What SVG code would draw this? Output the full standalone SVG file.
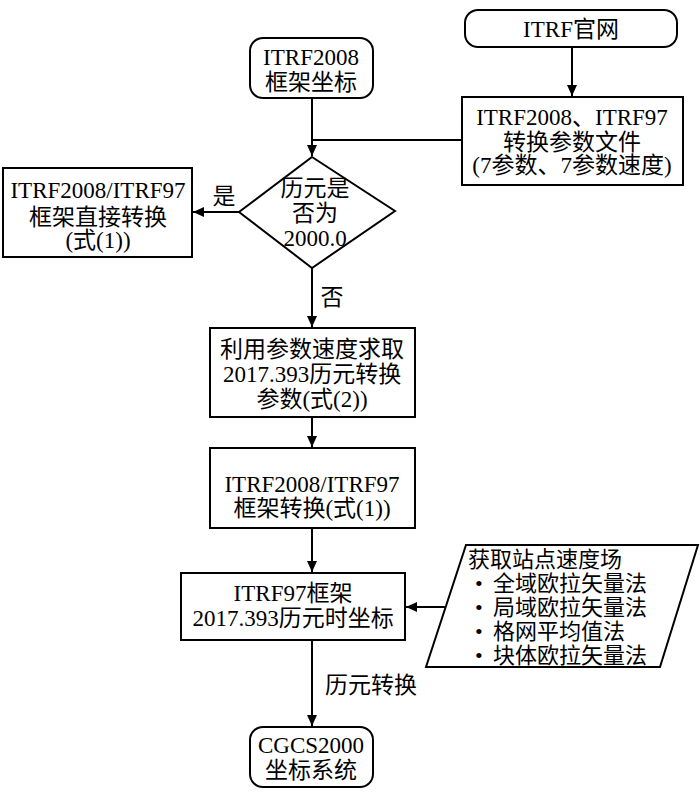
<svg xmlns="http://www.w3.org/2000/svg" width="700" height="796" viewBox="0 0 700 796">
<style>
.s{fill:#fff;stroke:#000;stroke-width:2}
.l{fill:none;stroke:#000;stroke-width:2}
text{font-family:"Liberation Serif","Noto Sans CJK SC",serif;font-size:23px;fill:#000;text-anchor:middle}
.st{text-anchor:start;font-size:22px}
</style>
<defs>
<marker id="ah" markerUnits="userSpaceOnUse" markerWidth="12" markerHeight="10" refX="11" refY="5" orient="auto">
<path d="M0,0 L11,5 L0,10 Z" fill="#000"/>
</marker>
</defs>
<rect width="700" height="796" fill="#fff"/>
<g id="connectors">
<line class="l" x1="572" y1="47" x2="572" y2="96" marker-end="url(#ah)"/>
<polyline class="l" points="312,98 312,140 462,140"/>
<line class="l" x1="312" y1="140" x2="312" y2="156" marker-end="url(#ah)"/>
<line class="l" x1="239" y1="212" x2="193" y2="212" marker-end="url(#ah)"/>
<line class="l" x1="312" y1="268" x2="312" y2="327" marker-end="url(#ah)"/>
<line class="l" x1="312" y1="417" x2="312" y2="447" marker-end="url(#ah)"/>
<line class="l" x1="312" y1="528" x2="312" y2="572" marker-end="url(#ah)"/>
<line class="l" x1="445" y1="607" x2="406" y2="607" marker-end="url(#ah)"/>
<line class="l" x1="312" y1="640" x2="312" y2="726" marker-end="url(#ah)"/>
<text x="224" y="204">是</text>
<text x="332" y="305">否</text>
<text x="371" y="693">历元转换</text>
</g>
<g id="itrf-site">
<rect class="s" x="465" y="10" width="212" height="37" rx="13"/>
<text x="571" y="37">ITRF官网</text>
</g>
<g id="itrf2008-coords">
<rect class="s" x="250" y="38" width="123" height="60" rx="13"/>
<text x="311" y="65">ITRF2008</text>
<text x="311" y="90">框架坐标</text>
</g>
<g id="param-file">
<rect class="s" x="462" y="97" width="221" height="88"/>
<text x="572" y="125">ITRF2008、ITRF97</text>
<text x="572" y="150">转换参数文件</text>
<text x="572" y="173">(7参数、7参数速度)</text>
</g>
<g id="decision">
<polygon class="s" points="312,157 395,211 312,268 239,212"/>
<text x="315" y="196">历元是</text>
<text x="315" y="221">否为</text>
<text x="315" y="246">2000.0</text>
</g>
<g id="direct">
<rect class="s" x="3" y="168" width="189" height="89"/>
<text x="98" y="198">ITRF2008/ITRF97</text>
<text x="98" y="225">框架直接转换</text>
<text x="98" y="248">(式(1))</text>
</g>
<g id="compute-params">
<rect class="s" x="210" y="328" width="205" height="89"/>
<text x="312" y="357">利用参数速度求取</text>
<text x="312" y="382">2017.393历元转换</text>
<text x="312" y="407">参数(式(2))</text>
</g>
<g id="frame-transform">
<rect class="s" x="210" y="448" width="205" height="80"/>
<text x="312" y="492">ITRF2008/ITRF97</text>
<text x="312" y="516">框架转换(式(1))</text>
</g>
<g id="itrf97-coords">
<rect class="s" x="181" y="573" width="224" height="67"/>
<text x="293" y="601">ITRF97框架</text>
<text x="293" y="626">2017.393历元时坐标</text>
</g>
<g id="velocity-field">
<polygon class="s" points="466,545 698,545 660,667 426,667"/>
<text class="st"><tspan x="468" y="567">获取站点速度场</tspan><tspan x="475" y="591">•</tspan><tspan x="493" y="591">全域欧拉矢量法</tspan><tspan x="475" y="615">•</tspan><tspan x="493" y="615">局域欧拉矢量法</tspan><tspan x="475" y="639">•</tspan><tspan x="493" y="639">格网平均值法</tspan><tspan x="475" y="663">•</tspan><tspan x="493" y="663">块体欧拉矢量法</tspan></text>
</g>
<g id="cgcs2000">
<rect class="s" x="250" y="727" width="123" height="60" rx="13"/>
<text x="311" y="753">CGCS2000</text>
<text x="311" y="778">坐标系统</text>
</g>
</svg>
